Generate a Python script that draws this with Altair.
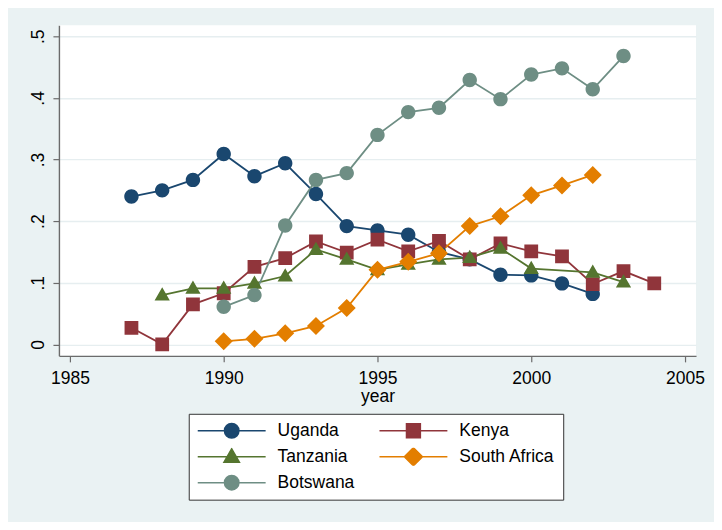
import altair as alt
import pandas as pd

countries = ["Uganda", "Kenya", "Tanzania", "South Africa", "Botswana"]
colors = ["#1a476f", "#90353b", "#55752f", "#e37e00", "#6e8e84"]

uganda_years = list(range(1987, 2003))
uganda = [0.240, 0.250, 0.267, 0.309, 0.273, 0.294, 0.244, 0.192, 0.185, 0.178,
          0.150, 0.138, 0.113, 0.112, 0.099, 0.082]

kenya_years = list(range(1987, 2005))
kenya = [0.027, 0.000, 0.065, 0.083, 0.126, 0.140, 0.167, 0.149, 0.170, 0.151,
         0.168, 0.138, 0.164, 0.151, 0.143, 0.098, 0.119, 0.099]

tanzania_years = [1988, 1989, 1990, 1991, 1992, 1993, 1994, 1995, 1996, 1997,
                  1998, 1999, 2000, 2002, 2003]
tanzania = [0.080, 0.091, 0.091, 0.099, 0.111, 0.154, 0.138, 0.121, 0.130, 0.138,
            0.141, 0.156, 0.123, 0.117, 0.101]

safrica_years = list(range(1990, 2003))
safrica = [0.005, 0.009, 0.018, 0.030, 0.059, 0.121, 0.134, 0.148, 0.192, 0.208,
           0.242, 0.258, 0.275]

botswana_years = list(range(1990, 2004))
botswana = [0.061, 0.080, 0.193, 0.267, 0.278, 0.340, 0.377, 0.384, 0.429, 0.398,
            0.438, 0.448, 0.414, 0.468]

x_ticks = [1985, 1990, 1995, 2000, 2005]
y_ticks = [0, 0.1, 0.2, 0.3, 0.4, 0.5]

series = [
    ("Uganda", uganda_years, uganda),
    ("Kenya", kenya_years, kenya),
    ("Tanzania", tanzania_years, tanzania),
    ("South Africa", safrica_years, safrica),
    ("Botswana", botswana_years, botswana),
]
rows = []
for name, yrs, vals in series:
    for yr, v in zip(yrs, vals):
        rows.append({"country": name, "year": yr, "value": v})
df = pd.DataFrame(rows)

# legend-style symbols: a horizontal line segment (stroke only) plus a filled marker
seg = "M-1,0L1,0"
rc = 0.212
circle = f"M{-rc},0A{rc},{rc},0,1,1,{rc},0A{rc},{rc},0,1,1,{-rc},0Z"
rs = 0.203
square = f"M{-rs},{-rs}L{rs},{-rs}L{rs},{rs}L{-rs},{rs}Z"
tw, tt, tb = 0.225, -0.23, 0.16
triangle = f"M0,{tt}L{tw},{tb}L{-tw},{tb}Z"
rd = 0.265
diamond = f"M0,{-rd}L{rd},0L0,{rd}L{-rd},0Z"
shapes = [seg + circle, seg + square, seg + triangle, seg + diamond, seg + circle]

font = "Liberation Sans"
fs = 17.5

leg = alt.Legend(
    title=None, orient="none", legendX=130, legendY=389, columns=2,
    direction="horizontal",
    symbolSize=4624, symbolStrokeWidth=1.6, symbolOpacity=1,
    labelFont=font, labelFontSize=fs, labelColor="black", labelOffset=11,
    columnPadding=24, rowPadding=8, padding=8, clipHeight=18,
    strokeColor="#333333", fillColor="white",
)

x_enc = alt.X("year:Q",
              scale=alt.Scale(domain=[1984.642, 2005.358], nice=False, zero=False),
              axis=alt.Axis(values=x_ticks, format="d", grid=False, title="year",
                            labelBaseline="alphabetic", labelPadding=21.5,
                            titleBaseline="alphabetic", titleY=45.2,
                            titleFontWeight="normal"))
y_enc = alt.Y("value:Q",
              scale=alt.Scale(domain=[-0.0186, 0.5178], nice=False, zero=False),
              axis=alt.Axis(values=y_ticks, title=None, grid=True,
                            labelExpr="datum.value == 0 ? '0' : slice(format(datum.value, '.1f'), 1)",
                            labelAngle=270, labelAlign="center",
                            labelBaseline="alphabetic", labelPadding=9.5))

lines = alt.Chart(df).mark_line(strokeWidth=1.8).encode(
    x=x_enc, y=y_enc,
    color=alt.Color("country:N", scale=alt.Scale(domain=countries, range=colors), legend=None),
)

points = alt.Chart(df).mark_point(filled=True, size=4624, opacity=1).encode(
    x=x_enc, y=y_enc,
    color=alt.Color("country:N", scale=alt.Scale(domain=countries, range=colors), legend=leg),
    stroke=alt.Stroke("country:N", scale=alt.Scale(domain=countries, range=colors), legend=leg),
    shape=alt.Shape("country:N", scale=alt.Scale(domain=countries, range=shapes), legend=leg),
    strokeWidth=alt.value(0),
)

chart = alt.layer(lines, points).resolve_scale(
    color="independent", stroke="independent", shape="independent"
).properties(
    width=638, height=331,
    background="#eaf2f3",
    padding={"left": 51, "top": 17, "right": 18, "bottom": 166},
    autosize=alt.AutoSizeParams(type="none"),
).configure_view(
    stroke=None, fill="white",
).configure_axis(
    labelFont=font, labelFontSize=fs, labelColor="black",
    titleFont=font, titleFontSize=fs, titleColor="black",
    domainColor="#6b6b6b", domainWidth=1.4,
    tickColor="#6b6b6b", tickSize=6, tickWidth=1.2,
    gridColor="#e6eef0", gridWidth=1.4,
)

chart.save("out.html", embed_options={"renderer": "svg", "actions": False})
